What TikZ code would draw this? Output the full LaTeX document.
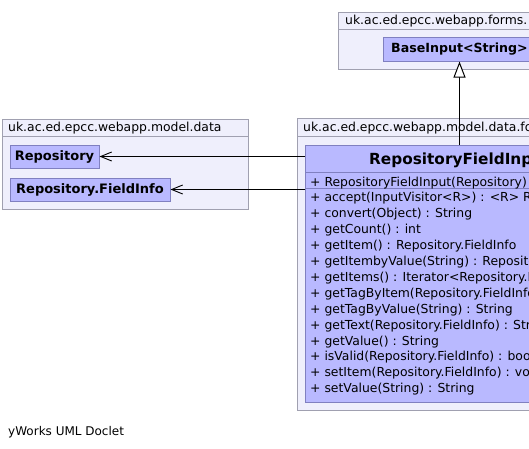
\documentclass[tikz,border=0pt]{standalone}
\usepackage{fontspec}
\setmainfont{DejaVu Sans}
\usetikzlibrary{arrows.meta}
\definecolor{pkgfill}{HTML}{EFEFFC}
\definecolor{pkgline}{HTML}{A0A0B0}
\definecolor{clsfill}{HTML}{B9B9FF}
\definecolor{clsline}{HTML}{8080C0}
\newcommand\myhdr{\fontsize{12.4}{15}\selectfont}
\newcommand\myfoot{\fontsize{12}{14}\selectfont}
\newcommand\mycls{\bfseries\fontsize{13}{15}\selectfont}
\newcommand\mybase{\bfseries\fontsize{12.6}{15}\selectfont}
\newcommand\myttl{\bfseries\fontsize{15.3}{18}\selectfont}
\newcommand\myrow{\fontsize{12.4}{14}\selectfont}
\begin{document}
\begin{tikzpicture}[x=1pt,y=-1pt,
  pkg/.style={draw=pkgline,fill=pkgfill,line width=1pt,anchor=north west,inner sep=0pt},
  cls/.style={draw=clsline,fill=clsfill,line width=1pt,font=\mycls,inner sep=0pt,text height=9.5pt,text depth=2.5pt},
  txt/.style={anchor=base west,inner sep=0pt},
  dep/.style={line width=1pt,-{Straight Barb[length=11pt,width=9pt,line width=0.9pt]}},
  gen/.style={line width=1pt,-{Triangle[open,length=16pt,width=12pt,line width=1pt,fill=white]}}]
\useasboundingbox (0,0) rectangle (529,448);
\clip (0,0) rectangle (529,448);
\fill[white] (0,0) rectangle (529,448);
% packages
\node[pkg,minimum width=290pt,minimum height=57pt] (pkgForms) at (338,12) {};
\draw[pkgline,line width=1pt] (pkgForms.west |- 0,29) -- (pkgForms.east |- 0,29);
\node[txt,font=\myhdr] (hForms) at (345,24.5) {uk.ac.ed.epcc.webapp.forms.};
\node[pkg,minimum width=246pt,minimum height=90pt] (pkgData) at (2,119) {};
\draw[pkgline,line width=1pt] (pkgData.west |- 0,136) -- (pkgData.east |- 0,136);
\node[txt,font=\myhdr] (hData) at (8,131.5) {uk.ac.ed.epcc.webapp.model.data};
\node[pkg,minimum width=340pt,minimum height=292pt] (pkgInp) at (297,118) {};
\draw[pkgline,line width=1pt] (pkgInp.west |- 0,136) -- (pkgInp.east |- 0,136);
\node[txt,font=\myhdr] (hInp) at (303,131.5) {uk.ac.ed.epcc.webapp.model.data.forms.inputs};
% classes
\node[cls,font=\mybase,minimum width=153pt,minimum height=24pt] (base) at (459.5,49) {BaseInput<String>};
\node[cls,minimum width=89pt,minimum height=23pt] (rep) at (54.5,156.5) {Repository};
\node[cls,minimum width=160pt,minimum height=23pt] (fi) at (90,189.5) {Repository.FieldInfo};
\node[draw=clsline,fill=clsfill,line width=1pt,anchor=north west,inner sep=0pt,minimum width=320pt,minimum height=257pt] (cls) at (305,145) {};
\draw[clsline,line width=1pt] (cls.west |- 0,172) -- (cls.east |- 0,172);
\draw[clsline,line width=1pt] (cls.west |- 0,188) -- (cls.east |- 0,188);
\node[txt,font=\myttl] (title) at (369,164) {RepositoryFieldInput};
\foreach \t [count=\i] in {
  {+ RepositoryFieldInput(Repository)},
  {+ accept(InputVisitor<R>) : <R> R},
  {+ convert(Object) : String},
  {+ getCount() : int},
  {+ getItem() : Repository.FieldInfo},
  {+ getItembyValue(String) : Repository.FieldInfo},
  {+ getItems() : Iterator<Repository.FieldInfo>},
  {+ getTagByItem(Repository.FieldInfo) : String},
  {+ getTagByValue(String) : String},
  {+ getText(Repository.FieldInfo) : String},
  {+ getValue() : String},
  {+ isValid(Repository.FieldInfo) : boolean},
  {+ setItem(Repository.FieldInfo) : void},
  {+ setValue(String) : String}}
  \node[txt,font=\myrow] (row\i) at (310,{186+15.9*(\i-1)}) {\t};
% edges
\draw[gen] (cls.north -| base.south) -- (base.south);
\draw[dep] (cls.west |- rep.east) -- (rep.east);
\draw[dep] (cls.west |- fi.east) -- (fi.east);
% footer
\node[txt,font=\myfoot] (foot) at (8,435) {yWorks UML Doclet};
\end{tikzpicture}
\end{document}
